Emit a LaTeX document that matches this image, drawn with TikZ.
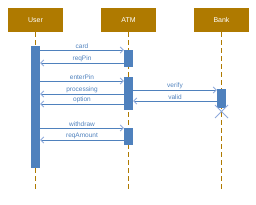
\documentclass[tikz,border=0pt]{standalone}
\usepackage{fontspec}
\setmainfont{Liberation Sans}
\usetikzlibrary{arrows.meta,positioning}
\definecolor{headfill}{HTML}{AF7A00}
\definecolor{actfill}{HTML}{4F81BD}
\definecolor{tipcol}{HTML}{8EA9DB}

\begin{document}
\begin{tikzpicture}[x=1pt, y=-1pt,
  head/.style={rectangle, fill=headfill, minimum width=55pt, minimum height=24pt, inner sep=0pt, text=white, font=\fontsize{7}{8}\selectfont},
  act/.style={rectangle, fill=actfill, minimum width=9pt, inner sep=0pt, anchor=north, minimum height=#1},
  life/.style={headfill, line width=1.2pt, dash pattern=on 5pt off 3pt},
  msg/.style={actfill, line width=0.9pt, -{Straight Barb[length=3pt, width=6pt, color=tipcol]}},
  lbl/.style={above, inner sep=0.6pt, text=actfill, font=\fontsize{6.5}{7}\selectfont}
]
  \useasboundingbox (0,0) rectangle (256,204);

  % heads and lifelines
  \node[head] (user) at (35.5,20) {User};
  \node[head] (atm) at (128.5,20) {ATM};
  \node[head] (bank) at (221.5,20) {Bank};
  \coordinate (userend) at (35.5,191);
  \coordinate (atmend) at (128.5,191);
  \coordinate (bankend) at (221.5,191);
  \draw[life] (user.south) -- (userend);
  \draw[life] (atm.south) -- (atmend);
  \draw[life] (bank.south) -- (bankend);

  % activations
  \node[act=122pt] (ua) at (35.5,46) {};
  \node[act=17pt] (aa1) at (128.5,50) {};
  \node[act=33pt] (aa2) at (128.5,77) {};
  \node[act=17pt] (aa3) at (128.5,128) {};
  \node[act=19pt] (ba) at (221.5,89) {};

  % message rows
  \coordinate (r1) at (0,50);
  \coordinate (r2) at (0,63);
  \coordinate (r3) at (0,81);
  \coordinate (r4) at (0,94);
  \coordinate (r5) at (0,104);
  \coordinate (r6) at (0,90);
  \coordinate (r7) at (0,101);
  \coordinate (r8) at (0,128);
  \coordinate (r9) at (0,140);

  \draw[msg] (ua.east |- r1) -- node[lbl] {card} (aa1.west |- r1);
  \draw[msg] (aa1.west |- r2) -- node[lbl] {reqPin} (ua.east |- r2);
  \draw[msg] (ua.east |- r3) -- node[lbl] {enterPin} (aa2.west |- r3);
  \draw[msg] (aa2.west |- r4) -- node[lbl] {processing} (ua.east |- r4);
  \draw[msg] (aa2.west |- r5) -- node[lbl] {option} (ua.east |- r5);
  \draw[msg] (aa2.east |- r6) -- node[lbl] {verify} (ba.west |- r6);
  \draw[msg] (ba.west |- r7) -- node[lbl] {valid} (aa2.east |- r7);
  \draw[msg] (ua.east |- r8) -- node[lbl] {withdraw} (aa3.west |- r8);
  \draw[msg] (aa3.west |- r9) -- node[lbl] {reqAmount} (ua.east |- r9);

  % destroy mark
  \coordinate (kill) at (221.5,111.5);
  \draw[tipcol, line width=0.9pt] ([shift={(-6.5,-6.5)}]kill) -- ([shift={(6.5,6.5)}]kill)
    ([shift={(6.5,-6.5)}]kill) -- ([shift={(-6.5,6.5)}]kill);
\end{tikzpicture}
\end{document}
